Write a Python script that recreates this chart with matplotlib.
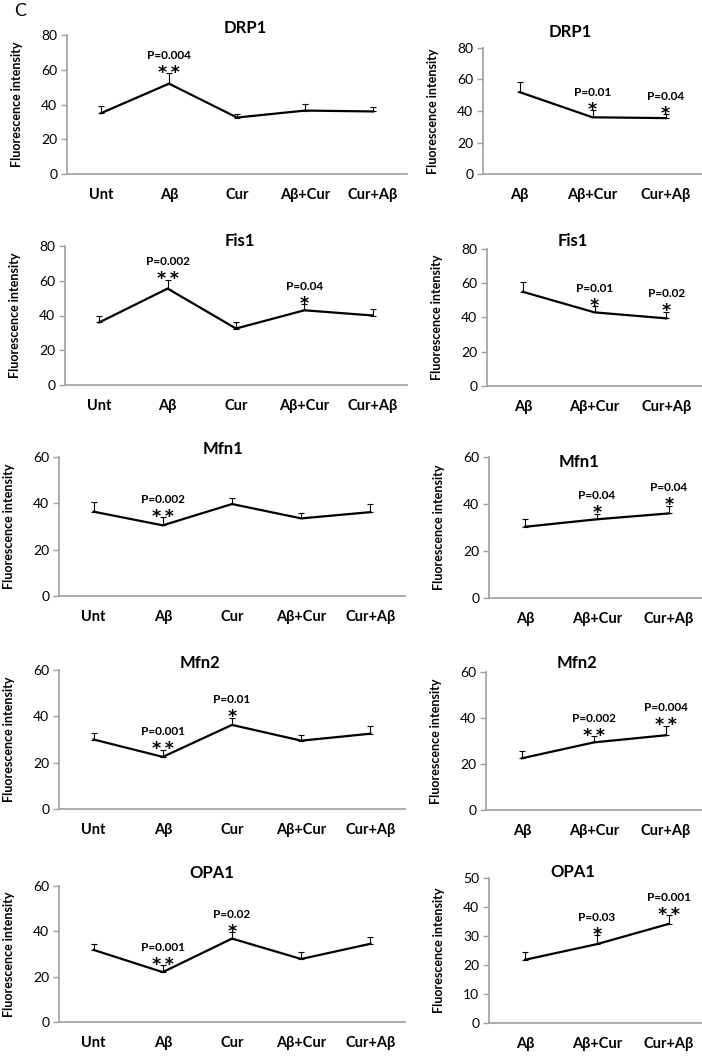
import matplotlib
matplotlib.use('Agg')
import matplotlib.pyplot as plt
import numpy as np

plt.rcParams['font.family'] = ['Lato', 'DejaVu Sans']

W, H = 702, 1058

# 数据：每个面板的均值和误差（只画上方误差）
groups_all = ['Unt', 'Aβ', 'Cur', 'Aβ+Cur', 'Cur+Aβ']
groups_sub = ['Aβ', 'Aβ+Cur', 'Cur+Aβ']

drp1_mean = [35, 52, 32.5, 36.5, 36]
drp1_err = [4, 6, 2, 4, 2.5]
drp1_sub_mean = [52, 36, 35.5]
drp1_sub_err = [6.5, 4.5, 2.5]

fis1_mean = [36, 55.5, 32.5, 43, 40]
fis1_err = [4, 5, 3.5, 3.5, 4]
fis1_sub_mean = [55, 43, 39.5]
fis1_sub_err = [5.5, 3.5, 4]

mfn1_mean = [36.4, 30.5, 39.7, 33.5, 36.2]
mfn1_err = [4, 3.5, 2.7, 2.5, 3.5]
mfn1_sub_mean = [30.3, 33.5, 36]
mfn1_sub_err = [3.5, 2.3, 3.3]

mfn2_mean = [30, 22.5, 36.3, 29.5, 32.5]
mfn2_err = [3, 3, 3, 2.5, 3.5]
mfn2_sub_mean = [22.5, 29.4, 32.5]
mfn2_sub_err = [3, 2.6, 4]

opa1_mean = [31.8, 22, 36.8, 27.8, 34.5]
opa1_err = [2.5, 3, 2.7, 3, 3]
opa1_sub_mean = [21.8, 27.2, 34.2]
opa1_sub_err = [2.7, 3, 3]

# 显著性标注 (组序号, P值, 星号)
drp1_sig = [(1, 'P=0.004', '**')]
drp1_sub_sig = [(1, 'P=0.01', '*'), (2, 'P=0.04', '*')]
fis1_sig = [(1, 'P=0.002', '**'), (3, 'P=0.04', '*')]
fis1_sub_sig = [(1, 'P=0.01', '*'), (2, 'P=0.02', '*')]
mfn1_sig = [(1, 'P=0.002', '**')]
mfn1_sub_sig = [(1, 'P=0.04', '*'), (2, 'P=0.04', '*')]
mfn2_sig = [(1, 'P=0.001', '**'), (2, 'P=0.01', '*')]
mfn2_sub_sig = [(1, 'P=0.002', '**'), (2, 'P=0.004', '**')]
opa1_sig = [(1, 'P=0.001', '**'), (2, 'P=0.02', '*')]
opa1_sub_sig = [(1, 'P=0.03', '*'), (2, 'P=0.001', '**')]

# 面板布局（像素）：x0, x1, ytop, ybot, ymax, ystep, 标题位置
panels = [
    ('DRP1', groups_all, drp1_mean, drp1_err, drp1_sig, (67, 407, 35, 174), 80, 20, (245, 28)),
    ('DRP1', groups_sub, drp1_sub_mean, drp1_sub_err, drp1_sub_sig, (483, 702, 48, 174), 80, 20, (570, 32)),
    ('Fis1', groups_all, fis1_mean, fis1_err, fis1_sig, (65, 407, 246, 385), 80, 20, (240, 241)),
    ('Fis1', groups_sub, fis1_sub_mean, fis1_sub_err, fis1_sub_sig, (487, 702, 249, 386), 80, 20, (573, 241)),
    ('Mfn1', groups_all, mfn1_mean, mfn1_err, mfn1_sig, (59, 405, 457, 596), 60, 20, (223, 449)),
    ('Mfn1', groups_sub, mfn1_sub_mean, mfn1_sub_err, mfn1_sub_sig, (489, 705, 457, 598), 60, 20, (579, 462)),
    ('Mfn2', groups_all, mfn2_mean, mfn2_err, mfn2_sig, (59, 405, 670, 809), 60, 20, (200, 663)),
    ('Mfn2', groups_sub, mfn2_sub_mean, mfn2_sub_err, mfn2_sub_sig, (486, 702, 672, 810), 60, 20, (577, 663)),
    ('OPA1', groups_all, opa1_mean, opa1_err, opa1_sig, (59, 405, 886, 1022), 60, 20, (212, 873)),
    ('OPA1', groups_sub, opa1_sub_mean, opa1_sub_err, opa1_sub_sig, (489, 705, 878, 1023), 50, 10, (573, 872)),
]

fig = plt.figure(figsize=(W / 100, H / 100), dpi=100)
fig.patch.set_facecolor('white')

gray = '#a0a0a0'

for title, groups, mean, err, sig, box, ymax, ystep, tpos in panels:
    x0, x1, yt, yb = box
    ax = fig.add_axes([x0 / W, 1 - yb / H, (x1 - x0) / W, (yb - yt) / H])
    x = np.arange(len(groups))
    ax.plot(x, mean, color='black', lw=1.6, zorder=3)
    ax.errorbar(x, mean, yerr=[np.zeros(len(err)), err], fmt='none', ecolor='black',
                elinewidth=0.8, capsize=2.5, capthick=0.8, zorder=2)
    for i, ptxt, stars in sig:
        top = mean[i] + err[i]
        # 星号之间留一点空隙
        ax.annotate('\u2009'.join(stars), (x[i], top), xytext=(0, -3.2), textcoords='offset points',
                    ha='center', va='baseline', fontsize=12.5, fontweight='bold',
                    family='DejaVu Sans')
        ax.annotate(ptxt, (x[i], top), xytext=(0, 10.5), textcoords='offset points',
                    ha='center', va='baseline', fontsize=8.5, fontweight='bold')
    ax.set_xlim(-0.5, len(groups) - 0.5)
    ax.set_ylim(0, ymax)
    ax.set_yticks(np.arange(0, ymax + 1, ystep))
    ax.set_xticks(x)
    ax.set_xticklabels(groups, fontsize=10.5, fontweight='bold')
    ax.tick_params(axis='x', length=0, pad=10)
    ax.tick_params(axis='y', length=4, color=gray, width=1, pad=3, labelsize=10)
    for s in ['top', 'right']:
        ax.spines[s].set_visible(False)
    for s in ['left', 'bottom']:
        ax.spines[s].set_color(gray)
        ax.spines[s].set_linewidth(1.2)
    ax.set_ylabel('Fluorescence intensity', fontsize=9, fontweight='bold')
    ax.yaxis.set_label_coords(-44 / (x1 - x0), 0.5)
    fig.text(tpos[0] / W, 1 - tpos[1] / H, title, ha='center', va='center',
             fontsize=12, fontweight='bold')

fig.text(20 / W, 1 - 11 / H, 'C', ha='center', va='center', fontsize=13)

fig.savefig('out.png', dpi=100)
